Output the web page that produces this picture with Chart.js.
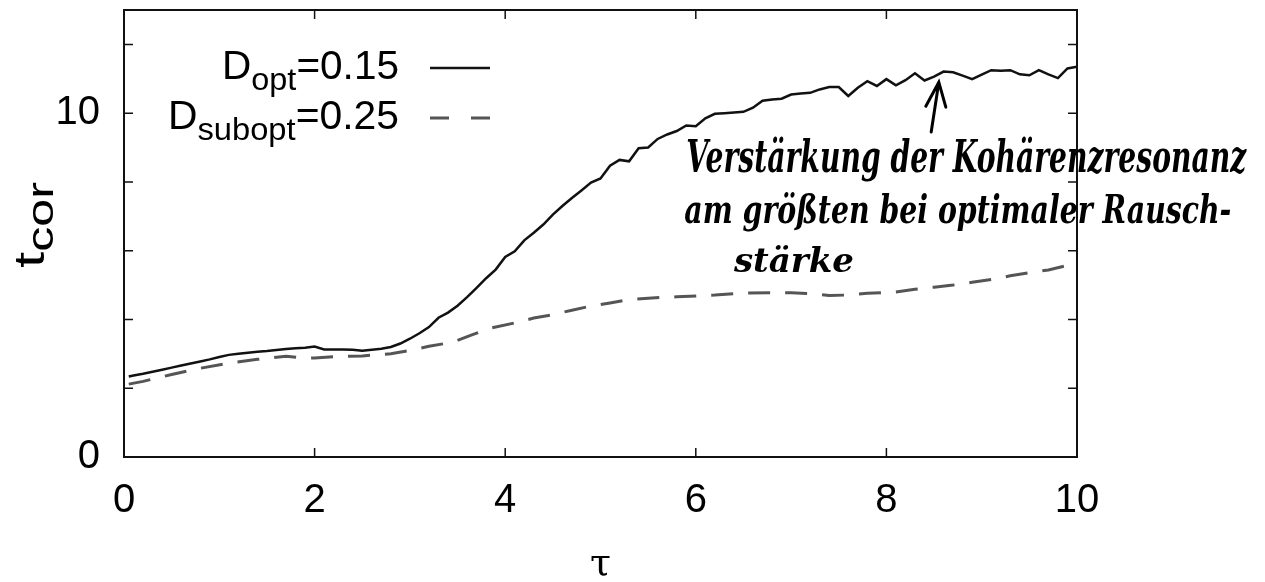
<!DOCTYPE html>
<html>
<head>
<meta charset="utf-8">
<script src="https://cdn.jsdelivr.net/npm/chart.js@4.4.0/dist/chart.umd.min.js"></script>
<style>
html, body { margin: 0; padding: 0; background: #fff; }
</style>
</head>
<body>
<canvas id="tcor" width="1265" height="582"></canvas>
<script>
// D_opt = 0.15 (solid), every 0.1 in tau
const tauOpt = [0.05, 0.1, 0.2, 0.3, 0.4, 0.5, 0.6, 0.7, 0.8, 0.9, 1.0,
  1.1, 1.2, 1.3, 1.4, 1.5, 1.6, 1.7, 1.8, 1.9, 2.0,
  2.1, 2.2, 2.3, 2.4, 2.5, 2.6, 2.7, 2.8, 2.9, 3.0,
  3.1, 3.2, 3.3, 3.4, 3.5, 3.6, 3.7, 3.8, 3.9, 4.0,
  4.1, 4.2, 4.3, 4.4, 4.5, 4.6, 4.7, 4.8, 4.9, 5.0,
  5.1, 5.2, 5.3, 5.4, 5.5, 5.6, 5.7, 5.8, 5.9, 6.0,
  6.1, 6.2, 6.3, 6.4, 6.5, 6.6, 6.7, 6.8, 6.9, 7.0,
  7.1, 7.2, 7.3, 7.4, 7.5, 7.6, 7.7, 7.8, 7.9, 8.0,
  8.1, 8.2, 8.3, 8.4, 8.5, 8.6, 8.7, 8.8, 8.9, 9.0,
  9.1, 9.2, 9.3, 9.4, 9.5, 9.6, 9.7, 9.8, 9.9, 10.0];
const tcorOpt = [2.34, 2.37, 2.42, 2.48, 2.54, 2.60, 2.66, 2.72, 2.78, 2.84, 2.91,
  2.97, 3.00, 3.03, 3.06, 3.08, 3.11, 3.14, 3.16, 3.18, 3.21,
  3.13, 3.13, 3.13, 3.12, 3.09, 3.12, 3.15, 3.20, 3.30, 3.44,
  3.60, 3.78, 4.05, 4.20, 4.40, 4.65, 4.92, 5.20, 5.45, 5.82,
  5.98, 6.30, 6.52, 6.76, 7.05, 7.30, 7.53, 7.75, 7.98, 8.10,
  8.47, 8.64, 8.60, 8.98, 9.00, 9.25, 9.38, 9.48, 9.64, 9.62,
  9.85, 9.98, 10.00, 10.02, 10.04, 10.16, 10.36, 10.40, 10.42, 10.54,
  10.57, 10.59, 10.69, 10.76, 10.76, 10.50, 10.74, 10.93, 10.79, 10.99,
  10.81, 10.96, 11.16, 10.95, 11.06, 11.21, 11.19, 11.09, 10.99, 11.12,
  11.25, 11.23, 11.25, 11.13, 11.10, 11.25, 11.13, 11.02, 11.30, 11.35];

// D_subopt = 0.25 (dashed)
const tauSub = [0.05, 0.2, 0.5, 0.8, 1.1, 1.4, 1.7, 1.9, 2.0, 2.2, 2.5, 2.8, 3.0, 3.2,
  3.45, 3.65, 3.85, 4.1, 4.3, 4.5, 4.7, 4.9, 5.1, 5.3, 5.5, 5.8, 6.2, 6.5, 6.8,
  7.0, 7.2, 7.4, 7.6, 7.8, 8.1, 8.3, 8.5, 8.7, 8.9, 9.1, 9.3, 9.5, 9.7, 9.9, 10.0];
const tcorSub = [2.12, 2.20, 2.40, 2.58, 2.73, 2.84, 2.93, 2.88, 2.88, 2.92, 2.94, 3.00, 3.10, 3.22,
  3.34, 3.55, 3.75, 3.90, 4.04, 4.14, 4.27, 4.39, 4.48, 4.58, 4.62, 4.66, 4.71, 4.77, 4.78,
  4.78, 4.75, 4.70, 4.71, 4.76, 4.80, 4.88, 4.94, 5.00, 5.08, 5.16, 5.27, 5.36, 5.44, 5.57, 5.64];

const yLabelled = [0, 10];
const legendOpt = ["D", "opt", "=0.15"];
const legendSub = ["D", "subopt", "=0.25"];
const noteLines = ["Verstärkung der Kohärenzresonanz", "am größten bei optimaler Rausch-", "stärke"];

const SANS = "'Liberation Sans', Arial, sans-serif";

function toPoints(xs, ys) {
  return xs.map((x, i) => ({ x: x, y: ys[i] }));
}

// frame, inward ticks on all four sides, legend, axis titles, handwritten note
const decorations = {
  id: "decorations",
  afterDraw(chart) {
    const ctx = chart.ctx;
    const a = chart.chartArea;
    const xs = chart.scales.x;
    const ys = chart.scales.y;
    ctx.save();
    ctx.strokeStyle = "#111";
    ctx.lineWidth = 2;
    ctx.strokeRect(a.left, a.top, a.right - a.left, a.bottom - a.top);

    const tl = 9;
    ctx.lineWidth = 1.5;
    ctx.beginPath();
    xs.ticks.forEach((t) => {
      if (t.value <= xs.min || t.value >= xs.max) return;
      const px = xs.getPixelForValue(t.value);
      ctx.moveTo(px, a.bottom); ctx.lineTo(px, a.bottom - tl);
      ctx.moveTo(px, a.top); ctx.lineTo(px, a.top + tl);
    });
    ys.ticks.forEach((t) => {
      if (t.value <= ys.min || t.value >= ys.max) return;
      const py = ys.getPixelForValue(t.value);
      ctx.moveTo(a.left, py); ctx.lineTo(a.left + tl, py);
      ctx.moveTo(a.right, py); ctx.lineTo(a.right - tl, py);
    });
    ctx.stroke();

    // legend (right aligned text with subscript, sample line)
    const drawEntry = (parts, baseline, target, lineY, dash, color) => {
      ctx.fillStyle = "#000";
      ctx.textBaseline = "alphabetic";
      const big = "40px " + SANS, small = "32px " + SANS;
      ctx.font = big;
      const w0 = ctx.measureText(parts[0]).width;
      const w2 = ctx.measureText(parts[2]).width;
      ctx.font = small;
      const w1 = ctx.measureText(parts[1]).width;
      const k = target / (w0 + w1 + w2);
      ctx.save();
      ctx.translate(399 - target, baseline);
      ctx.scale(k, 1);
      let x = 0;
      ctx.font = big; ctx.fillText(parts[0], x, 0); x += w0;
      ctx.font = small; ctx.fillText(parts[1], x, 11); x += w1;
      ctx.font = big; ctx.fillText(parts[2], x, 0);
      ctx.restore();
      ctx.strokeStyle = color;
      ctx.lineWidth = dash.length ? 3 : 2.5;
      ctx.setLineDash(dash);
      ctx.beginPath();
      ctx.moveTo(430, lineY); ctx.lineTo(490, lineY);
      ctx.stroke();
      ctx.setLineDash([]);
    };
    drawEntry(legendOpt, 79, 177, 68, [], "#111");
    drawEntry(legendSub, 129, 231, 118, [19, 22], "#555");

    // y title t_cor (rotated)
    ctx.save();
    ctx.translate(44, 268);
    ctx.rotate(-Math.PI / 2);
    ctx.fillStyle = "#000";
    ctx.font = "42px " + SANS;
    const wt = ctx.measureText("t").width;
    ctx.font = "36px " + SANS;
    const wc = ctx.measureText("cor").width;
    ctx.scale(86 / (wt + wc), 1);
    ctx.font = "42px " + SANS;
    ctx.fillText("t", 0, 0);
    ctx.font = "36px " + SANS;
    ctx.fillText("cor", wt, 9);
    ctx.restore();

    // x title tau
    ctx.font = "38px 'DejaVu Serif', serif";
    ctx.textAlign = "center";
    ctx.fillText("τ", (a.left + a.right) / 2, 575);
    ctx.textAlign = "left";

    // handwritten note, anchored in data coordinates
    const note = [
      { x: 5.9, y: 8.3, w: 560, h: 44 },
      { x: 5.88, y: 6.8, w: 547, h: 40 },
      { x: 6.4, y: 5.38, w: 120, h: 34 }
    ];
    ctx.fillStyle = "#000";
    noteLines.forEach((line, i) => {
      const n = note[i];
      ctx.font = "italic bold " + n.h + "px 'DejaVu Serif', serif";
      const mw = ctx.measureText(line).width;
      ctx.save();
      ctx.translate(xs.getPixelForValue(n.x), ys.getPixelForValue(n.y));
      ctx.scale(n.w / mw, 1);
      ctx.fillText(line, 0, 0);
      ctx.restore();
    });

    // arrow pointing at the top of the solid curve
    const tx = xs.getPixelForValue(8.55), ty = ys.getPixelForValue(10.9);
    const bx = xs.getPixelForValue(8.47), by = ys.getPixelForValue(9.45);
    ctx.strokeStyle = "#000";
    ctx.lineWidth = 3;
    ctx.lineCap = "round";
    ctx.beginPath();
    ctx.moveTo(bx, by); ctx.lineTo(tx, ty);
    ctx.moveTo(tx - 13, ty + 24); ctx.lineTo(tx, ty);
    ctx.lineTo(tx + 7, ty + 25);
    ctx.stroke();
    ctx.restore();
  }
};

new Chart(document.getElementById("tcor"), {
  type: "line",
  data: {
    datasets: [
      {
        label: "D_opt=0.15",
        data: toPoints(tauOpt, tcorOpt),
        borderColor: "#111",
        borderWidth: 2.5,
        pointRadius: 0,
        tension: 0
      },
      {
        label: "D_subopt=0.25",
        data: toPoints(tauSub, tcorSub),
        borderColor: "#555",
        borderWidth: 3,
        borderDash: [22, 15],
        pointRadius: 0,
        tension: 0
      }
    ]
  },
  options: {
    responsive: false,
    devicePixelRatio: 1,
    animation: false,
    layout: { padding: { top: 10, right: 188, left: 0, bottom: 0 } },
    plugins: { legend: { display: false }, tooltip: { enabled: false } },
    scales: {
      x: {
        type: "linear",
        min: 0,
        max: 10,
        grid: { display: false, drawTicks: false },
        border: { display: false },
        ticks: {
          stepSize: 2,
          padding: 20,
          color: "#000",
          font: { family: SANS, size: 40 },
          maxRotation: 0
        },
        afterFit(scale) {
          scale.height = 125;
          scale.paddingLeft = 0;
          scale.paddingRight = 0;
        }
      },
      y: {
        type: "linear",
        min: 0,
        max: 13,
        grid: { display: false, drawTicks: false },
        border: { display: false },
        ticks: {
          stepSize: 2,
          includeBounds: false,
          padding: 24,
          color: "#000",
          font: { family: SANS, size: 40 },
          callback: (v) => (yLabelled.includes(v) ? String(v) : "")
        },
        afterFit(scale) {
          scale.width = 124;
          scale.paddingTop = 0;
          scale.paddingBottom = 0;
        }
      }
    }
  },
  plugins: [decorations]
});
</script>
</body>
</html>
